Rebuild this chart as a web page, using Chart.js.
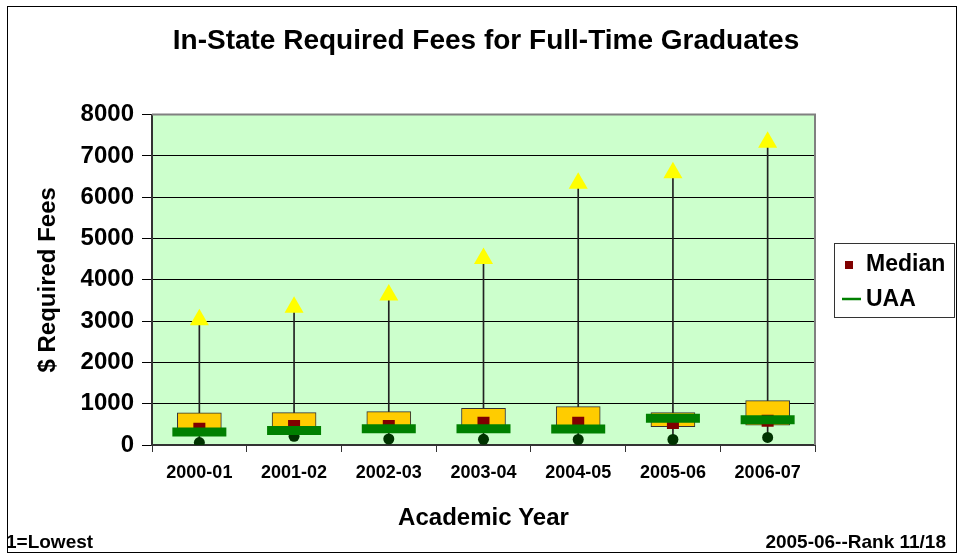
<!DOCTYPE html>
<html>
<head>
<meta charset="utf-8">
<title>In-State Required Fees for Full-Time Graduates</title>
<script src="https://cdn.jsdelivr.net/npm/chart.js@4.4.0/dist/chart.umd.min.js"></script>
<style>
  html, body { margin: 0; padding: 0; background: #fff; }
  #wrap { width: 960px; height: 557px; }
</style>
</head>
<body>
<div id="wrap"><canvas id="myChart" width="960" height="557"></canvas></div>
<script>
// values ($)
var years = ['2000-01', '2001-02', '2002-03', '2003-04', '2004-05', '2005-06', '2006-07'];
var minFees = [60, 210, 145, 138, 133, 133, 182];
var q1Fees = [330, 380, 420, 420, 420, 444, 478];
var q3Fees = [776, 783, 807, 890, 928, 783, 1074];
var medianFees = [395, 460, 460, 541, 541, 533, 589];
var maxFees = [3030, 3333, 3629, 4516, 6335, 6594, 7329];
var uaaFees = [315, 352, 393, 393, 388, 647, 613];
var yTickStep = 1000;
var yMax = 8000;

var FONT = '"Liberation Sans", Arial, Helvetica, sans-serif';
Chart.defaults.font.family = FONT;
Chart.defaults.color = '#000';

var boxes = [];
var whiskers = [];
for (var i = 0; i < years.length; i++) {
    boxes.push([q1Fees[i], q3Fees[i]]);
    whiskers.push([minFees[i], maxFees[i]]);
}

// plot background, top/right frame, legend, footnotes, outer border
var decor = {
    id: 'decor',
    beforeDraw: function(chart) {
        var ctx = chart.ctx, a = chart.chartArea;
        ctx.save();
        ctx.fillStyle = '#fff';
        ctx.fillRect(0, 0, chart.width, chart.height);
        ctx.fillStyle = '#CCFFCC';
        ctx.fillRect(a.left, a.top, a.right - a.left, a.bottom - a.top);
        ctx.restore();
    },
    beforeDatasetsDraw: function(chart) {
        var ctx = chart.ctx, a = chart.chartArea;
        ctx.save();
        ctx.strokeStyle = '#808080';
        ctx.lineWidth = 2;
        ctx.beginPath();
        ctx.moveTo(a.left, a.top);
        ctx.lineTo(a.right, a.top);
        ctx.lineTo(a.right, a.bottom);
        ctx.stroke();
        ctx.restore();
    },
    afterDraw: function(chart) {
        var ctx = chart.ctx;
        var ds = chart.data.datasets;
        ctx.save();
        // legend
        ctx.strokeStyle = '#333';
        ctx.lineWidth = 1;
        ctx.strokeRect(834.5, 243.5, 120, 74);
        ctx.fillStyle = ds[2].backgroundColor;
        ctx.fillRect(845, 261, 8, 8);
        ctx.strokeStyle = ds[0].borderColor;
        ctx.lineWidth = 2.5;
        ctx.beginPath();
        ctx.moveTo(842, 299);
        ctx.lineTo(861, 299);
        ctx.stroke();
        ctx.fillStyle = '#000';
        ctx.font = 'bold 23px ' + FONT;
        ctx.textAlign = 'left';
        ctx.textBaseline = 'middle';
        ctx.fillText(ds[2].label, 866, 265);
        ctx.fillText(ds[0].label, 866, 300);
        // footnotes
        ctx.font = 'bold 19px ' + FONT;
        ctx.textBaseline = 'alphabetic';
        ctx.fillText('1=Lowest', 6, 548);
        ctx.textAlign = 'right';
        ctx.fillText('2005-06--Rank 11/18', 946, 548);
        // outer border
        ctx.strokeStyle = '#000';
        ctx.lineWidth = 1;
        ctx.strokeRect(7.5, 6.5, 949, 546);
        ctx.restore();
    }
};

var ctx = document.getElementById('myChart').getContext('2d');
var myChart = new Chart(ctx, {
    type: 'bar',
    data: {
        labels: years,
        datasets: [
            {
                type: 'line',
                label: 'UAA',
                data: uaaFees,
                showLine: false,
                pointStyle: 'line',
                pointRadius: 27,
                pointBorderWidth: 9,
                borderColor: '#008000',
                backgroundColor: '#008000',
                order: 1
            },
            {
                type: 'line',
                label: 'Minimum',
                data: minFees,
                showLine: false,
                pointStyle: 'circle',
                pointRadius: 5.5,
                pointBorderWidth: 0,
                backgroundColor: '#003300',
                borderColor: '#003300',
                order: 2
            },
            {
                type: 'line',
                label: 'Median',
                data: medianFees,
                showLine: false,
                pointStyle: 'rect',
                pointRadius: 8.5,
                pointBorderWidth: 0,
                backgroundColor: '#800000',
                borderColor: '#800000',
                order: 3
            },
            {
                type: 'line',
                label: 'Maximum',
                data: maxFees,
                showLine: false,
                pointStyle: 'triangle',
                pointRadius: 11,
                pointBorderWidth: 0,
                backgroundColor: '#FFFF00',
                borderColor: '#FFFF00',
                order: 4
            },
            {
                label: 'Middle 50%',
                data: boxes,
                backgroundColor: '#FFCC00',
                borderColor: '#333',
                borderWidth: 1,
                borderSkipped: false,
                barThickness: 44,
                grouped: false,
                order: 5
            },
            {
                label: 'Range',
                data: whiskers,
                backgroundColor: '#222',
                borderWidth: 0,
                barThickness: 1,
                grouped: false,
                order: 6
            }
        ]
    },
    options: {
        responsive: false,
        animation: false,
        events: [],
        layout: { padding: { left: 12, right: 0, top: 0, bottom: 0 } },
        plugins: {
            legend: { display: false },
            tooltip: { enabled: false },
            title: {
                display: true,
                text: 'In-State Required Fees for Full-Time Graduates',
                font: { size: 28, weight: 'bold' },
                color: '#000',
                padding: { top: 24, bottom: 57 }
            }
        },
        scales: {
            x: {
                offset: true,
                grid: {
                    offset: true,
                    drawOnChartArea: false,
                    drawTicks: true,
                    tickLength: 7,
                    color: '#333',
                    lineWidth: 1
                },
                border: { color: '#333', width: 2 },
                ticks: { font: { size: 18, weight: 'bold' }, color: '#000', padding: 10 },
                title: {
                    display: true,
                    text: 'Academic Year',
                    font: { size: 24, weight: 'bold' },
                    color: '#000',
                    padding: { top: 0, bottom: 24 }
                },
                afterFit: function(scale) { scale.height = 112; }
            },
            y: {
                min: 0,
                max: yMax,
                ticks: {
                    stepSize: yTickStep,
                    font: { size: 24, weight: 'bold' },
                    color: '#000',
                    padding: 8,
                    callback: function(v) { return String(v); }
                },
                grid: { color: '#000', lineWidth: 1, tickLength: 10 },
                border: { color: '#333', width: 2 },
                title: {
                    display: true,
                    text: '$ Required Fees',
                    font: { size: 24, weight: 'bold' },
                    color: '#000',
                    padding: { top: 22, bottom: 0 }
                },
                afterFit: function(scale) { scale.width = 140; }
            },
            // empty right-hand scale that keeps room for the legend
            side: {
                type: 'linear',
                position: 'right',
                display: true,
                ticks: { display: false },
                grid: { display: false },
                border: { display: false },
                afterFit: function(scale) { scale.width = 145; }
            }
        }
    },
    plugins: [decor]
});
</script>
</body>
</html>
